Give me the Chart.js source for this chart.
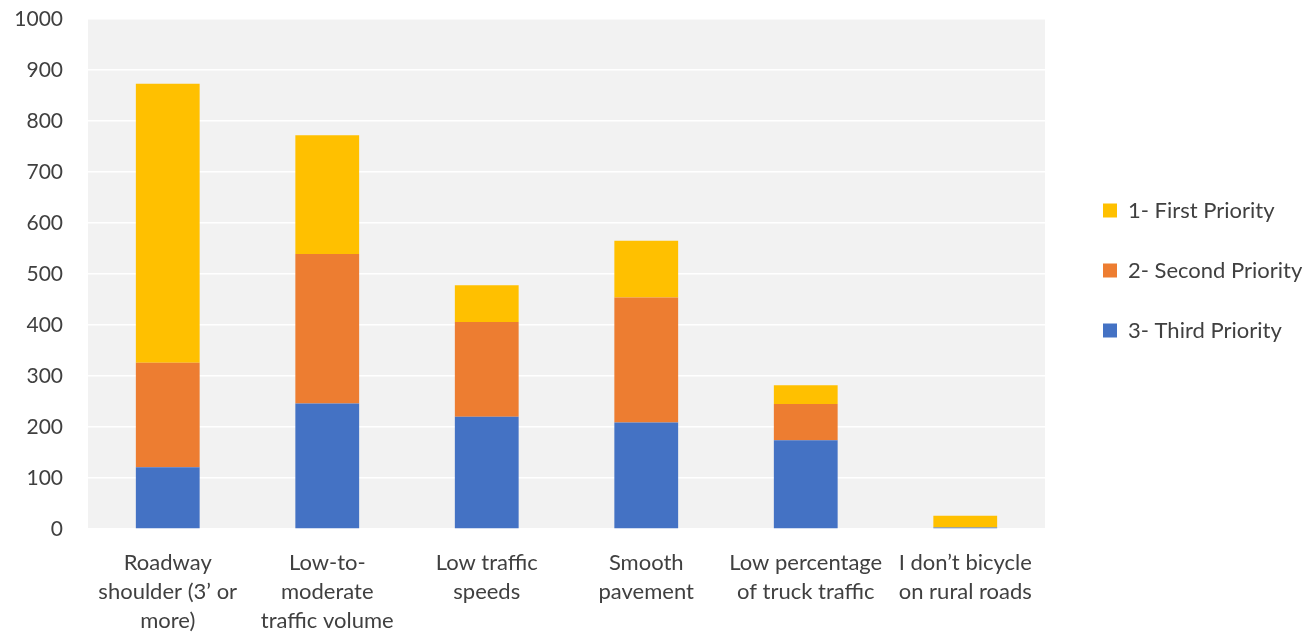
<!DOCTYPE html>
<html lang="en">
<head>
    <meta charset="UTF-8">
    <script src="https://cdn.jsdelivr.net/npm/chart.js"></script>
    <title>Rural road priorities</title>
    <style>
        html, body { margin: 0; padding: 0; background: #ffffff; }
        #wrap { width: 1303px; height: 632px; }
    </style>
</head>
<body>
    <div id="wrap"><canvas id="canvas"></canvas></div>
    <script>
        // categories (multi-line labels)
        const categories = [
            ['Roadway', 'shoulder (3\u2019 or', 'more)'],
            ['Low-to-', 'moderate', 'traffic volume'],
            ['Low traffic', 'speeds'],
            ['Smooth', 'pavement'],
            ['Low percentage', 'of truck traffic'],
            ['I don\u2019t bicycle', 'on rural roads']
        ];

        // stacked from the bottom up
        const thirdPriority  = [121, 246, 220, 209, 174, 3];
        const secondPriority = [205, 293, 186, 245, 71, 0];
        const firstPriority  = [547, 233, 72, 111, 37, 23];

        const yTicks = [0, 100, 200, 300, 400, 500, 600, 700, 800, 900, 1000];

        const textColor = '#404040';
        const fontFamily = 'Lato, "Open Sans", sans-serif';

        // grey fill behind the plot area
        const plotBackground = {
            id: 'plotBackground',
            beforeDraw(chart) {
                const { ctx, chartArea } = chart;
                ctx.save();
                ctx.fillStyle = '#f2f2f2';
                ctx.fillRect(chartArea.left, chartArea.top, chartArea.width, chartArea.height);
                ctx.restore();
            }
        };

        // fixed legend width, items nudged right and up
        const legendWidth = {
            id: 'legendWidth',
            afterInit(chart) {
                const legend = chart.legend;
                const fit = legend.fit.bind(legend);
                const draw = legend.draw.bind(legend);
                legend.fit = function () {
                    fit();
                    this.width = 258;
                    this.right = this.left + this.width;
                };
                legend.draw = function () {
                    const ctx = this.ctx;
                    ctx.save();
                    ctx.translate(20, -55);
                    draw();
                    ctx.restore();
                };
            }
        };

        new Chart(document.getElementById('canvas'), {
            type: 'bar',
            data: {
                labels: categories,
                datasets: [
                    { label: '3- Third Priority', data: thirdPriority, backgroundColor: '#4472c4' },
                    { label: '2- Second Priority', data: secondPriority, backgroundColor: '#ed7d31' },
                    { label: '1- First Priority', data: firstPriority, backgroundColor: '#ffc000' }
                ]
            },
            options: {
                responsive: true,
                maintainAspectRatio: false,
                animation: false,
                layout: { padding: { top: 19, left: 0, right: 0, bottom: 0 } },
                datasets: {
                    bar: { categoryPercentage: 1.0, barPercentage: 0.4 }
                },
                plugins: {
                    legend: {
                        position: 'right',
                        reverse: true,
                        labels: {
                            boxWidth: 14,
                            boxHeight: 14,
                            padding: 38,
                            color: textColor,
                            font: { family: fontFamily, size: 22 }
                        }
                    },
                    tooltip: { enabled: false }
                },
                scales: {
                    x: {
                        stacked: true,
                        grid: { display: false },
                        border: { display: false },
                        ticks: {
                            color: textColor,
                            font: { family: fontFamily, size: 22, lineHeight: 1.32 },
                            maxRotation: 0,
                            autoSkip: false,
                            padding: 11
                        },
                        afterFit(axis) {
                            axis.height = 103;
                            axis.paddingTop = 0;
                            axis.paddingBottom = 0;
                        }
                    },
                    y: {
                        stacked: true,
                        min: 0,
                        max: 1000,
                        afterBuildTicks(axis) { axis.ticks = yTicks.map(v => ({ value: v })); },
                        grid: { color: '#ffffff', lineWidth: 1.5, drawTicks: false },
                        border: { display: false },
                        ticks: {
                            color: textColor,
                            font: { family: fontFamily, size: 21 },
                            padding: 25,
                            callback: v => String(v)
                        },
                        afterFit(axis) {
                            axis.width = 88;
                            axis.paddingTop = 0;
                            axis.paddingBottom = 0;
                        }
                    }
                }
            },
            plugins: [plotBackground, legendWidth]
        });
    </script>
</body>
</html>
